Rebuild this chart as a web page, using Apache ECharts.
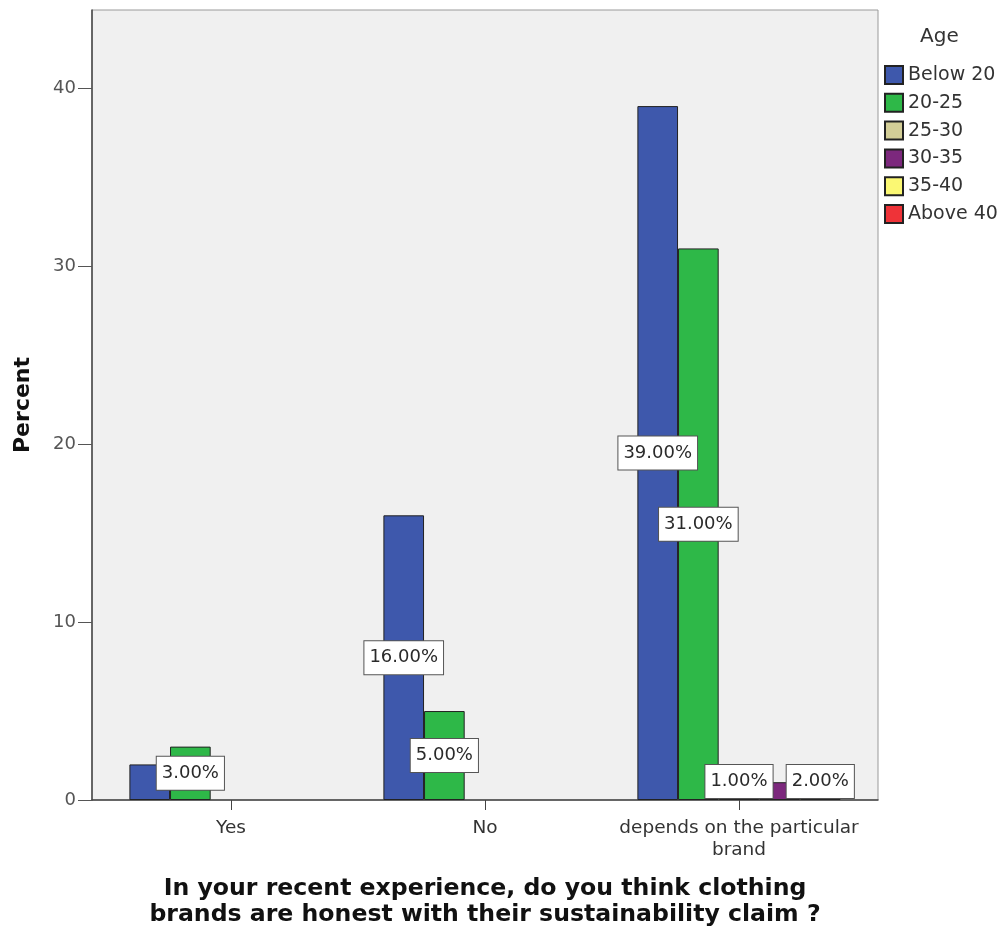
<!DOCTYPE html>
<html>
<head>
<meta charset="utf-8">
<title>Clothing brands and sustainability claims</title>
<script src="https://cdn.jsdelivr.net/npm/echarts@6/dist/echarts.min.js"></script>
<style>
  html, body { margin: 0; padding: 0; background: #ffffff; }
  #chart { width: 1001px; height: 938px; }
</style>
</head>
<body>
<div id="chart"></div>
<script>
// Answer categories and age groups
const categories = ['Yes', 'No', 'depends on the particular\nbrand'];
const ageGroups = ['Below 20', '20-25', '25-30', '30-35', '35-40', 'Above 40'];

// Percent of respondents per age group, in category order
const below20 = [2, 16, 39];
const age20to25 = [3, 5, 31];
const age25to30 = [0, 0, 1];
const age30to35 = [0, 0, 1];
const age35to40 = [0, 0, 2];
const above40 = [0, 0, 0];

// Value axis
const yTicks = [0, 10, 20, 30, 40];
const yMax = 44.4;

const groupValues = [below20, age20to25, age25to30, age30to35, age35to40, above40];
const groupColors = ['#3e58ac', '#2eb848', '#d3ce97', '#7c287d', '#fbf873', '#ef3338'];

// Value labels that the renderer leaves out where they collide with a neighbour
const hiddenLabels = { 'Below 20': ['Yes'], '30-35': [categories[2]] };

const FONT = 'DejaVu Sans';
const plotTop = 10, plotHeight = 790;
const pxPerUnit = plotHeight / yMax;
const labelBoxHeight = 33;

function buildData(name, values) {
  const hidden = hiddenLabels[name] || [];
  return values.map((v, i) => {
    if (v === 0) return '-';
    const half = v * pxPerUnit / 2;
    const minHalf = labelBoxHeight / 2 + 2;
    const lift = half < minHalf ? half - minHalf : 0;
    return {
      value: v,
      label: { show: hidden.indexOf(categories[i]) < 0, offset: [0, lift] }
    };
  });
}

const series = ageGroups.map((name, k) => {
  const values = groupValues[k];
  const empty = values.every(v => v === 0);
  return {
    name: name,
    type: 'bar',
    // groups with no answers get no slot inside the clusters
    xAxisIndex: empty ? 0 : 1,
    yAxisIndex: empty ? 0 : 1,
    data: empty ? [] : buildData(name, values),
    barGap: '0%',
    barCategoryGap: '20%',
    z: name === '30-35' ? 1 : 2,
    itemStyle: { color: groupColors[k], borderColor: '#222', borderWidth: 1 },
    label: {
      position: 'inside',
      formatter: p => p.value.toFixed(2) + '%',
      fontFamily: FONT,
      fontSize: 18,
      lineHeight: 22,
      color: '#2a2a2a',
      backgroundColor: '#ffffff',
      borderColor: '#555',
      borderWidth: 1,
      padding: [6, 5, 5, 5]
    },
    emphasis: { disabled: true }
  };
});

const chart = echarts.init(document.getElementById('chart'), null, { renderer: 'canvas' });
chart.setOption({
  animation: false,
  backgroundColor: '#ffffff',
  textStyle: { fontFamily: FONT },
  grid: [
    { left: 92, top: plotTop, width: 786, height: plotHeight, show: true,
      backgroundColor: '#f0f0f0', borderColor: '#9a9a9a', borderWidth: 1 },
    { left: 104, top: plotTop, width: 762, height: plotHeight, show: false }
  ],
  xAxis: [
    { gridIndex: 0, type: 'category', data: [''],
      axisLine: { show: true, lineStyle: { color: '#444', width: 1.5 } },
      axisTick: { show: false }, axisLabel: { show: false },
      name: 'In your recent experience, do you think clothing\nbrands are honest with their sustainability claim ?',
      nameLocation: 'middle', nameGap: 76,
      nameTextStyle: { fontFamily: FONT, fontWeight: 'bold', fontSize: 23.6, lineHeight: 26, color: '#111' } },
    { gridIndex: 1, type: 'category', data: categories,
      axisLine: { show: false },
      axisTick: { show: true, alignWithLabel: true, length: 10, lineStyle: { color: '#444' } },
      axisLabel: { interval: 0, fontFamily: FONT, fontSize: 18.5, lineHeight: 22, margin: 17, color: '#333' } }
  ],
  yAxis: [
    { gridIndex: 0, type: 'value', min: yTicks[0], max: yMax, interval: yTicks[1] - yTicks[0],
      axisLine: { show: true, lineStyle: { color: '#444', width: 1.5 } },
      axisTick: { show: true, length: 14, lineStyle: { color: '#555' } },
      axisLabel: { fontFamily: FONT, fontSize: 18, margin: 16, color: '#555', showMaxLabel: false,
        formatter: v => (yTicks.indexOf(v) >= 0 ? String(v) : '') },
      splitLine: { show: false },
      name: 'Percent', nameLocation: 'middle', nameGap: 58,
      nameTextStyle: { fontFamily: FONT, fontWeight: 'bold', fontSize: 22, color: '#111' } },
    { gridIndex: 1, type: 'value', min: yTicks[0], max: yMax, show: false }
  ],
  legend: {
    data: ageGroups,
    orient: 'vertical',
    left: 884,
    top: 65,
    padding: 0,
    icon: 'rect',
    itemWidth: 18,
    itemHeight: 18,
    itemGap: 7.8,
    selectedMode: false,
    textStyle: { fontFamily: FONT, fontSize: 19, lineHeight: 18, color: '#333' }
  },
  graphic: [
    { type: 'text', left: 920, top: 27,
      style: { text: 'Age', fontFamily: FONT, fontSize: 20, fill: '#333' } }
  ],
  series: series
});
</script>
</body>
</html>
